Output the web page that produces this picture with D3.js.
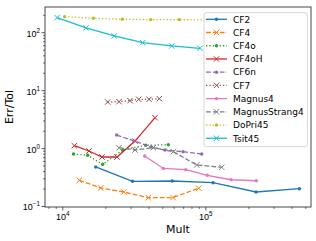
<!DOCTYPE html>
<html><head><meta charset="utf-8">
<script src="https://cdn.jsdelivr.net/npm/d3@7"></script>
<style>body{margin:0;background:#fff;} svg{display:block;font-family:"DejaVu Sans",sans-serif;}</style>
</head><body>
<svg id="chart" width="316" height="241"></svg>
<script>
// ---- data ----
const seriesNames = ["CF2","CF4","CF4o","CF4oH","CF6n","CF7","Magnus4","MagnusStrang4","DoPri45","Tsit45"];
const CF2_x = [17130, 30970, 58700, 113200, 226200, 454300];
const CF2_y = [0.472, 0.267, 0.270, 0.2525, 0.1745, 0.199];
const CF4_x = [13150, 18560, 26880, 39950, 59440, 89920];
const CF4_y = [0.278, 0.205, 0.1745, 0.139, 0.140, 0.203];
const CF4o_x = [11980, 15050, 19160, 26460, 38300, 55120];
const CF4o_y = [0.791, 0.751, 0.525, 0.927, 1.117, 1.145];
const CF4oH_x = [12130, 15370, 18950, 24130, 32240, 44500];
const CF4oH_y = [1.10, 0.891, 0.702, 0.702, 1.32, 3.35];
const CF6n_x = [24010, 31720, 41720, 52260, 69830, 94360];
const CF6n_y = [1.68, 1.33, 1.045, 0.927, 0.867, 0.791];
const CF7_x = [20770, 24920, 29750, 34200, 40400, 47700];
const CF7_y = [6.25, 6.33, 6.59, 6.96, 6.96, 7.13];
const Magnus4_x = [37700, 50850, 72940, 103300, 151200, 227300];
const Magnus4_y = [0.731, 0.445, 0.424, 0.339, 0.284, 0.273];
const MagnusStrang4_x = [24920, 32240, 43280, 59730, 87070, 130200];
const MagnusStrang4_y = [1.016, 0.927, 1.016, 0.867, 0.511, 0.466];
const DoPri45_x = [10390, 16480, 26290, 41500, 65800, 104400];
const DoPri45_y = [186, 174.5, 168, 165, 165, 163];
const Tsit45_x = [9200, 14650, 23100, 36500, 58200, 91800];
const Tsit45_y = [179, 119, 86.3, 66.1, 58, 52.9];
const xMajorTicks = [1e4, 1e5];
const xTickExps = ["4", "5"];
const yMajorTicks = [0.1, 1, 10, 100];
const yTickExps = ["\u22121", "0", "1", "2"];
const xLabel = "Mult";
const yLabel = "Err/Tol";

const seriesX = [CF2_x, CF4_x, CF4o_x, CF4oH_x, CF6n_x, CF7_x, Magnus4_x, MagnusStrang4_x, DoPri45_x, Tsit45_x];
const seriesY = [CF2_y, CF4_y, CF4o_y, CF4oH_y, CF6n_y, CF7_y, Magnus4_y, MagnusStrang4_y, DoPri45_y, Tsit45_y];

// ---- styles ----
const colors = ["#1f77b4","#ff7f0e","#2ca02c","#d62728","#9467bd","#8c564b","#e377c2","#7f7f7f","#bcbd22","#17becf"];
const dashes = [null,"4.8,2.1","1.3,2.1",null,"4.8,2.1","1.3,2.1",null,"4.8,2.1","1.3,2.1",null];
const markers = ["dot","x","dot","x","dot","x","dot","x","dot","x"];

const svg = d3.select("#chart");
const L = 45, R = 311, T = 7, B = 207;
const x = d3.scaleLog().domain([7570, 548000]).range([L, R]);
const y = d3.scaleLog().domain([0.0961, 273]).range([B, T]);

function minorTicks(lo, hi) {
  const out = [];
  for (let e = Math.floor(Math.log10(lo)); e <= Math.ceil(Math.log10(hi)); e++) {
    for (let m = 2; m <= 9; m++) { const v = m * Math.pow(10, e); if (v >= lo && v <= hi) out.push(v); }
  }
  return out;
}
const axisColor = "#333";
// x minor
svg.append("g").attr("transform", `translate(0,${B})`)
  .call(d3.axisBottom(x).tickValues(minorTicks(7570, 548000)).tickSize(2).tickFormat(""))
  .call(g => { g.select(".domain").remove(); g.selectAll("line").attr("stroke", axisColor).attr("stroke-width", 0.7); });
// x major
const gx = svg.append("g").attr("transform", `translate(0,${B})`)
  .call(d3.axisBottom(x).tickValues(xMajorTicks).tickSize(3.5).tickFormat(""))
  .call(g => { g.select(".domain").remove(); g.selectAll("line").attr("stroke", axisColor).attr("stroke-width", 0.8); });
gx.selectAll(".tick").each(function(d, i) {
  const t = d3.select(this).append("text").attr("y", 13).attr("fill", "#000")
    .attr("font-size", 9).attr("text-anchor", "middle");
  t.append("tspan").text("10");
  t.append("tspan").attr("dy", -4).attr("font-size", 6.3).text(xTickExps[i]);
});
// y minor
svg.append("g").attr("transform", `translate(${L},0)`)
  .call(d3.axisLeft(y).tickValues(minorTicks(0.0961, 273)).tickSize(2).tickFormat(""))
  .call(g => { g.select(".domain").remove(); g.selectAll("line").attr("stroke", axisColor).attr("stroke-width", 0.7); });
const gy = svg.append("g").attr("transform", `translate(${L},0)`)
  .call(d3.axisLeft(y).tickValues(yMajorTicks).tickSize(3.5).tickFormat(""))
  .call(g => { g.select(".domain").remove(); g.selectAll("line").attr("stroke", axisColor).attr("stroke-width", 0.8); });
gy.selectAll(".tick").each(function(d, i) {
  const t = d3.select(this).append("text").attr("x", -5).attr("dy", 4).attr("fill", "#000")
    .attr("font-size", 9).attr("text-anchor", "end");
  t.append("tspan").text("10");
  t.append("tspan").attr("dy", -4).attr("font-size", 6.3).text(yTickExps[i]);
});

// clip
svg.append("clipPath").attr("id", "clip").append("rect").attr("x", L).attr("y", T).attr("width", R - L).attr("height", B - T);
const plot = svg.append("g").attr("clip-path", "url(#clip)");

function drawMarker(g, type, cx, cy, color) {
  if (type === "dot") {
    g.append("circle").attr("cx", cx).attr("cy", cy).attr("r", 1.7).attr("fill", color);
  } else {
    const s = 2.7;
    g.append("path").attr("d", `M${cx - s},${cy - s}L${cx + s},${cy + s}M${cx - s},${cy + s}L${cx + s},${cy - s}`)
      .attr("stroke", color).attr("stroke-width", 1).attr("fill", "none");
  }
}

const line = d3.line().x(d => x(d[0])).y(d => y(d[1]));
seriesNames.forEach((name, i) => {
  const pts = seriesX[i].map((v, j) => [v, seriesY[i][j]]);
  const g = plot.append("g");
  g.append("path").datum(pts).attr("d", line).attr("fill", "none")
    .attr("stroke", colors[i]).attr("stroke-width", 1.3)
    .attr("stroke-dasharray", dashes[i]);
  pts.forEach(p => drawMarker(g, markers[i], x(p[0]), y(p[1]), colors[i]));
});

// frame
svg.append("rect").attr("x", L).attr("y", T).attr("width", R - L).attr("height", B - T)
  .attr("fill", "none").attr("stroke", axisColor).attr("stroke-width", 0.9);

// axis labels
svg.append("text").attr("x", (L + R) / 2).attr("y", 233).attr("text-anchor", "middle")
  .attr("font-size", 11).attr("fill", "#000").text(xLabel);
svg.append("text").attr("transform", `translate(13,${(T + B) / 2}) rotate(-90)`).attr("text-anchor", "middle")
  .attr("font-size", 11).attr("fill", "#000").text(yLabel);

// legend
const lg = svg.append("g");
lg.append("rect").attr("x", 204).attr("y", 12.7).attr("width", 103.3).attr("height", 134)
  .attr("rx", 2).attr("fill", "#fff").attr("fill-opacity", 0.8).attr("stroke", "#ccc").attr("stroke-width", 0.8);
seriesNames.forEach((name, i) => {
  const yy = 19.3 + i * 13.22;
  lg.append("line").attr("x1", 206).attr("x2", 227).attr("y1", yy).attr("y2", yy)
    .attr("stroke", colors[i]).attr("stroke-width", 1.3).attr("stroke-dasharray", dashes[i]);
  drawMarker(lg, markers[i], 216.5, yy, colors[i]);
  lg.append("text").attr("x", 233).attr("y", yy + 3.3).attr("font-size", 9).attr("fill", "#000").text(name);
});
</script>
</body></html>
